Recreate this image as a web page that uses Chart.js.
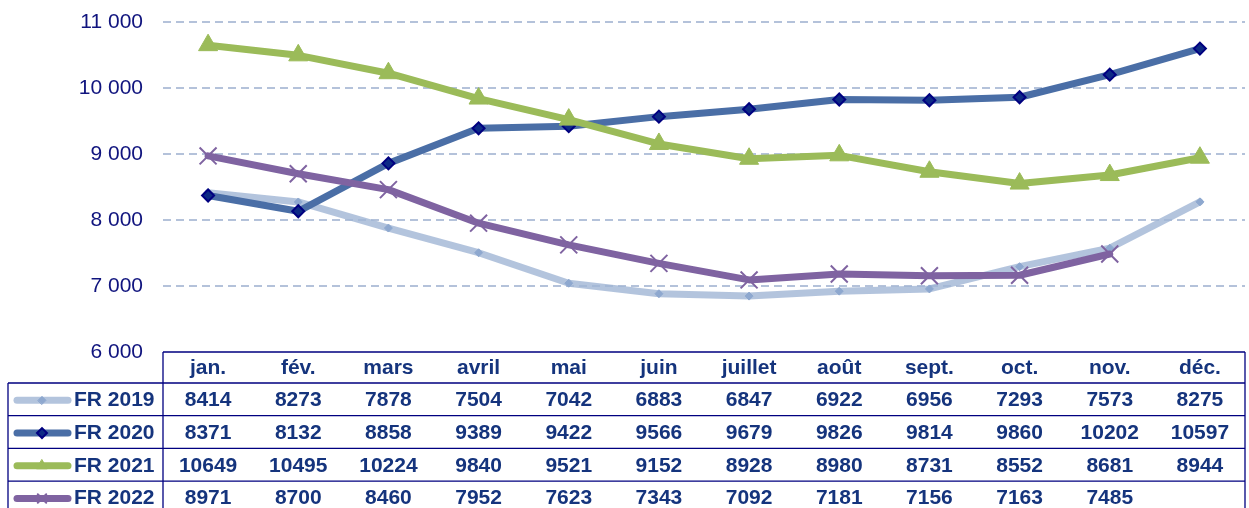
<!DOCTYPE html>
<html>
<head>
<meta charset="utf-8">
<script src="https://cdn.jsdelivr.net/npm/chart.js@4"></script>
<style>
  html, body { margin: 0; padding: 0; background: #fff; }
  #wrap { width: 1249px; height: 508px; }
</style>
</head>
<body>
<div id="wrap"><canvas id="chart" width="1249" height="508"></canvas></div>
<script>
const months = ["jan.", "fév.", "mars", "avril", "mai", "juin", "juillet", "août", "sept.", "oct.", "nov.", "déc."];
const seriesNames = ["FR 2019", "FR 2020", "FR 2021", "FR 2022"];
const fr2019 = [8414, 8273, 7878, 7504, 7042, 6883, 6847, 6922, 6956, 7293, 7573, 8275];
const fr2020 = [8371, 8132, 8858, 9389, 9422, 9566, 9679, 9826, 9814, 9860, 10202, 10597];
const fr2021 = [10649, 10495, 10224, 9840, 9521, 9152, 8928, 8980, 8731, 8552, 8681, 8944];
const fr2022 = [8971, 8700, 8460, 7952, 7623, 7343, 7092, 7181, 7156, 7163, 7485, null];
const yTicks = [6000, 7000, 8000, 9000, 10000, 11000];

const navy = "#000080";
const textBlue = "#15347d";
const font = "'Liberation Sans', Arial, sans-serif";

const styles = [
  { line: "rgba(160,181,212,0.8)", point: "#8ea8cf", pborder: "#8ea8cf", shape: "rectRot", r: 4, lr: 4, bw: 1 },
  { line: "#4a6ea6", point: "#0d2a85", pborder: navy, shape: "rectRot", r: 6, lr: 5, bw: 2 },
  { line: "#9bbb59", point: "#9bbb59", pborder: "#9bbb59", shape: "triangle", r: 11, lr: 6, bw: 1 },
  { line: "#7f63a1", point: "#7f63a1", pborder: "#7f63a1", shape: "crossRot", r: 12, lr: 6, bw: 2 }
];
const allData = [fr2019, fr2020, fr2021, fr2022];

const datasets = allData.map((d, i) => ({
  label: seriesNames[i],
  data: d,
  borderColor: styles[i].line,
  borderWidth: 7,
  borderCapStyle: "round",
  borderJoinStyle: "round",
  pointStyle: styles[i].shape,
  pointRadius: styles[i].r,
  pointBackgroundColor: styles[i].point,
  pointBorderColor: styles[i].pborder,
  pointBorderWidth: styles[i].bw,
  tension: 0,
  clip: false,
  order: 4 - i
}));

const tableTop = 352;
const headerH = 31;
const rowH = 32.7;
const legendLeft = 8;

const tablePlugin = {
  id: "dataTable",
  afterDraw(chart) {
    const ctx = chart.ctx;
    const x = chart.scales.x;
    const area = chart.chartArea;
    const left = area.left, right = area.right;
    const bottom = chart.height + 10;
    ctx.save();
    ctx.strokeStyle = navy;
    ctx.lineWidth = 1.3;
    ctx.beginPath();
    ctx.moveTo(left, tableTop); ctx.lineTo(right, tableTop);
    ctx.moveTo(left, tableTop); ctx.lineTo(left, bottom);
    ctx.moveTo(right, tableTop); ctx.lineTo(right, bottom);
    ctx.moveTo(legendLeft, tableTop + headerH); ctx.lineTo(legendLeft, bottom);
    for (let r = 0; r < 4; r++) {
      const y = tableTop + headerH + r * rowH;
      ctx.moveTo(legendLeft, y); ctx.lineTo(right, y);
    }
    ctx.stroke();

    ctx.fillStyle = textBlue;
    ctx.font = "bold 21px " + font;
    ctx.textAlign = "center";
    ctx.textBaseline = "middle";
    months.forEach((m, i) => {
      ctx.fillText(m, x.getPixelForValue(i), tableTop + headerH / 2 + 1);
    });
    allData.forEach((d, r) => {
      const yc = tableTop + headerH + r * rowH + rowH / 2 + 1;
      d.forEach((v, i) => {
        if (v !== null) ctx.fillText(String(v), x.getPixelForValue(i), yc);
      });
      // legend key
      const s = styles[r];
      ctx.save();
      ctx.strokeStyle = s.line;
      ctx.lineWidth = 7;
      ctx.lineCap = "round";
      ctx.beginPath();
      ctx.moveTo(17, yc); ctx.lineTo(68, yc);
      ctx.stroke();
      ctx.fillStyle = s.point;
      ctx.strokeStyle = s.pborder;
      ctx.lineWidth = s.bw;
      Chart.helpers.drawPoint(ctx, { pointStyle: s.shape, radius: s.lr, borderWidth: s.bw }, 42, yc);
      ctx.restore();
      ctx.textAlign = "left";
      ctx.fillText(seriesNames[r], 74, yc);
      ctx.textAlign = "center";
    });
    ctx.restore();
  }
};

new Chart(document.getElementById("chart"), {
  type: "line",
  data: { labels: months, datasets },
  options: {
    responsive: false,
    animation: false,
    events: [],
    layout: { autoPadding: false, padding: { top: 22, bottom: 156, right: 4, left: 0 } },
    plugins: { legend: { display: false }, tooltip: { enabled: false } },
    scales: {
      x: {
        display: false,
        offset: true
      },
      y: {
        min: 6000,
        max: 11000,
        afterFit(s) { s.width = 163; s.paddingTop = 0; s.paddingBottom = 0; },
        afterBuildTicks(s) { s.ticks = yTicks.map(v => ({ value: v })); },
        border: { display: false, dash: [8, 5] },
        grid: {
          color: (c) => c.tick && c.tick.value === 6000 ? "rgba(0,0,0,0)" : "#b4c2da",
          lineWidth: 2,
          drawTicks: false
        },
        ticks: {
          color: "#10147e",
          padding: 20,
          font: { family: font, size: 21 },
          callback: (v) => String(v).replace(/\B(?=(\d{3})+(?!\d))/g, " ")
        }
      }
    }
  },
  plugins: [tablePlugin]
});
</script>
</body>
</html>
